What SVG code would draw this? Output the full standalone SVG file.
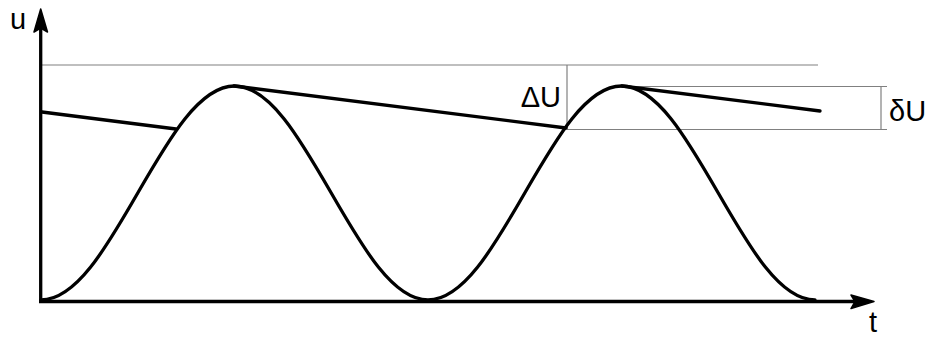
<svg xmlns="http://www.w3.org/2000/svg" width="929" height="339" viewBox="0 0 929 339">
<style>
.thin{stroke:#808080;stroke-width:1.2;fill:none}
.thick{stroke:#000;stroke-width:3.3;fill:none;stroke-linecap:round;stroke-linejoin:round}
.axis{stroke:#000;stroke-width:3.3;fill:none}
.lbl{font-family:"Liberation Sans",Arial,sans-serif;font-size:29px;fill:#000}
</style>
<rect width="929" height="339" fill="#fff"/>
<g id="guides">
<line class="thin" x1="42" y1="65" x2="818" y2="65"/>
<line class="thin" x1="567" y1="65" x2="567" y2="129.5"/>
<line class="thin" x1="567" y1="129.5" x2="887" y2="129.5"/>
<line class="thin" x1="622" y1="86.5" x2="887" y2="86.5"/>
<line class="thin" x1="881" y1="86.5" x2="881" y2="129.5"/>
</g>
<g id="axes">
<line class="axis" x1="40.7" y1="303" x2="40.7" y2="20"/>
<polygon points="40.7,9 47.5,32 40.7,28 34,32" fill="#000" stroke="#000" stroke-width="1.5" stroke-linejoin="round"/>
<line class="axis" x1="39" y1="301.5" x2="862" y2="301.5"/>
<polygon points="874,301.5 851,295 855,301.5 851,308.5" fill="#000" stroke="#000" stroke-width="1.5" stroke-linejoin="round"/>
</g>
<g id="curve">
<path class="thick" d="M41,300 C76,300 106.2,247.8 137.75,193 C169.3,138.2 199.5,86 234.5,86 C269.5,86 299.7,138.2 331.25,193 C362.8,247.8 393,300 428,300 C463,300 493.2,247.8 524.75,193 C556.3,138.2 586.5,86 621.5,86 C656.5,86 686.7,138.2 718.25,193 C749.8,247.8 780,300 815,300"/>
</g>
<g id="connectors">
<line class="thick" x1="42" y1="112" x2="176" y2="129"/>
<line class="thick" x1="234" y1="86" x2="566" y2="128"/>
<line class="thick" x1="622" y1="86" x2="820" y2="111"/>
</g>
<g id="labels">
<text class="lbl" x="10" y="29">u</text>
<text class="lbl" x="561" y="107" text-anchor="end">ΔU</text>
<text class="lbl" x="889" y="121">δU</text>
<text class="lbl" x="869" y="332">t</text>
</g>
</svg>
